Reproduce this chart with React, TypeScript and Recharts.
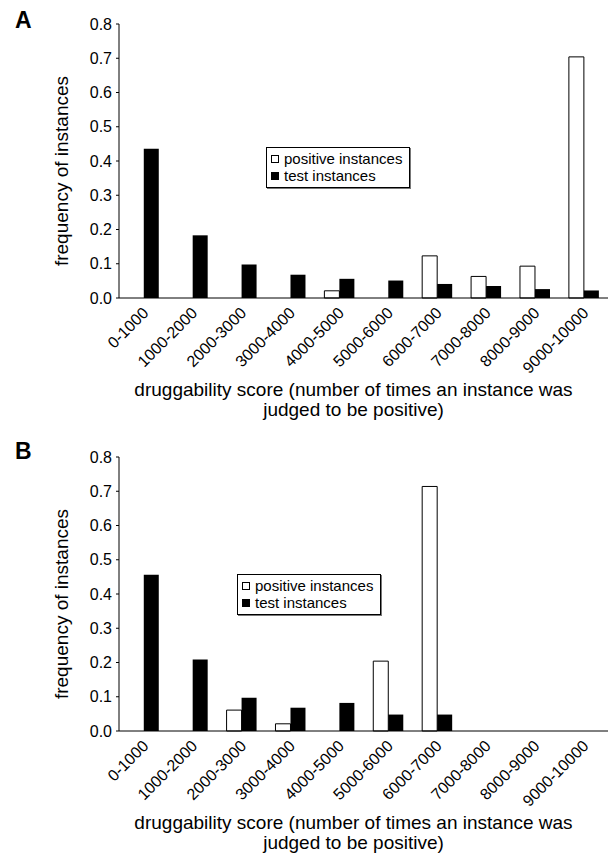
import React from 'react'
import { BarChart, Bar, XAxis, YAxis, Legend } from 'recharts'

const ranges = [
  '0-1000', '1000-2000', '2000-3000', '3000-4000', '4000-5000',
  '5000-6000', '6000-7000', '7000-8000', '8000-9000', '9000-10000',
]

const positiveA = [0, 0, 0, 0, 0.021, 0, 0.123, 0.063, 0.093, 0.704]
const testA = [0.436, 0.183, 0.098, 0.068, 0.056, 0.051, 0.041, 0.035, 0.026, 0.022]

const positiveB = [0, 0, 0.061, 0.021, 0, 0.204, 0.714, 0, 0, 0]
const testB = [0.456, 0.209, 0.097, 0.068, 0.082, 0.048, 0.048, 0, 0, 0]

const yTicks = [0, 0.1, 0.2, 0.3, 0.4, 0.5, 0.6, 0.7, 0.8]
const boundaryTicks = [1, 2, 3, 4, 5, 6, 7, 8, 9]

const FONT = 'Arial, "Liberation Sans", sans-serif'

const AngledTick = ({ x, y, payload }: any) => (
  <text
    x={x + 6}
    y={y + 16}
    transform={`rotate(-45, ${x + 6}, ${y + 16})`}
    textAnchor="end"
    fontSize={16}
    fontFamily={FONT}
    fill="#000"
  >
    {payload.value}
  </text>
)

const NoTick = () => <g />

const XTitle = ({ viewBox }: any) => {
  const cx = viewBox.x + viewBox.width / 2 - 10
  const y0 = viewBox.y
  return (
    <g fontFamily={FONT} fontSize={19} fill="#000" textAnchor="middle">
      <text x={cx} y={y0 + 98}>druggability score (number of times an instance was</text>
      <text x={cx} y={y0 + 118}>judged to be positive)</text>
    </g>
  )
}

// axis title sits a bit below the plot centre, as in the original
const YTitle = ({ viewBox }: any) => {
  const cy = viewBox.y + viewBox.height / 2 + 10
  const x = 68
  return (
    <text
      x={x}
      y={cy}
      transform={`rotate(-90, ${x}, ${cy})`}
      textAnchor="middle"
      fontSize={19}
      fontFamily={FONT}
      fill="#000"
    >
      frequency of instances
    </text>
  )
}

const LegendBox = () => (
  <div
    style={{
      border: '1px solid #000',
      boxShadow: '1px 1px 0 #777',
      background: '#fff',
      padding: '2px 6px 3px 4px',
      fontFamily: FONT,
      fontSize: 15,
      lineHeight: '17px',
      color: '#000',
      width: 132,
    }}
  >
    <div style={{ display: 'flex', alignItems: 'center' }}>
      <span style={{ width: 6, height: 6, border: '1px solid #000', background: '#fff', marginRight: 5 }} />
      positive instances
    </div>
    <div style={{ display: 'flex', alignItems: 'center' }}>
      <span style={{ width: 6, height: 6, border: '1px solid #000', background: '#000', marginRight: 5 }} />
      test instances
    </div>
  </div>
)

function Panel({ positive, test, legendLeft, legendTop }: any) {
  const data = ranges.map((range, i) => ({ range, positive: positive[i], test: test[i] }))
  return (
    <BarChart
      width={613}
      height={430}
      data={data}
      margin={{ top: 24, right: 5, left: 0, bottom: 0 }}
      barCategoryGap="20%"
      barGap={0}
    >
      <XAxis
        dataKey="range"
        height={132}
        interval={0}
        tick={<AngledTick />}
        tickSize={0}
        tickMargin={0}
        axisLine={{ stroke: '#000' }}
        tickLine={false}
        label={<XTitle />}
      />
      <XAxis
        xAxisId="marks"
        type="number"
        domain={[0, 10]}
        ticks={boundaryTicks}
        allowDataOverflow
        mirror
        height={0}
        axisLine={false}
        tick={NoTick}
        tickSize={3}
        tickLine={{ stroke: '#000' }}
      />
      <XAxis
        xAxisId="top"
        dataKey="range"
        orientation="top"
        height={0}
        tick={false}
        tickLine={false}
        axisLine={{ stroke: '#000' }}
      />
      <YAxis
        width={119}
        domain={[0, 0.8]}
        ticks={yTicks}
        tickFormatter={(v: number) => v.toFixed(1)}
        tick={{ fill: '#000', fontSize: 16, fontFamily: FONT }}
        tickSize={3}
        tickMargin={4}
        axisLine={{ stroke: '#000' }}
        tickLine={{ stroke: '#000' }}
        label={<YTitle />}
      />
      <YAxis
        yAxisId="inner"
        domain={[0, 0.8]}
        ticks={yTicks}
        allowDataOverflow
        mirror
        width={0}
        axisLine={false}
        tick={NoTick}
        tickSize={2}
        tickLine={{ stroke: '#000' }}
      />
      <YAxis
        yAxisId="right"
        orientation="right"
        domain={[0, 0.8]}
        width={0}
        tick={false}
        tickLine={false}
        axisLine={{ stroke: '#000' }}
      />
      <Legend
        layout="vertical"
        align="center"
        verticalAlign="middle"
        content={<LegendBox />}
        wrapperStyle={{ left: legendLeft, top: legendTop, width: 'auto' }}
      />
      <Bar dataKey="positive" name="positive instances" fill="#fff" stroke="#000" strokeWidth={1} isAnimationActive={false} />
      <Bar dataKey="test" name="test instances" fill="#000" isAnimationActive={false} />
    </BarChart>
  )
}

export default function App() {
  return (
    <div style={{ position: 'absolute', left: 0, top: 0, width: 613, height: 859, background: '#fff' }}>
      <div style={{ position: 'absolute', left: 0, top: 0 }}>
        <Panel positive={positiveA} test={testA} legendLeft={266} legendTop={147} />
      </div>
      <div style={{ position: 'absolute', left: 0, top: 433 }}>
        <Panel positive={positiveB} test={testB} legendLeft={237} legendTop={141} />
      </div>
      <div style={{ position: 'absolute', left: 15, top: 7, fontFamily: FONT, fontWeight: 'bold', fontSize: 23 }}>A</div>
      <div style={{ position: 'absolute', left: 15, top: 438, fontFamily: FONT, fontWeight: 'bold', fontSize: 23 }}>B</div>
    </div>
  )
}
